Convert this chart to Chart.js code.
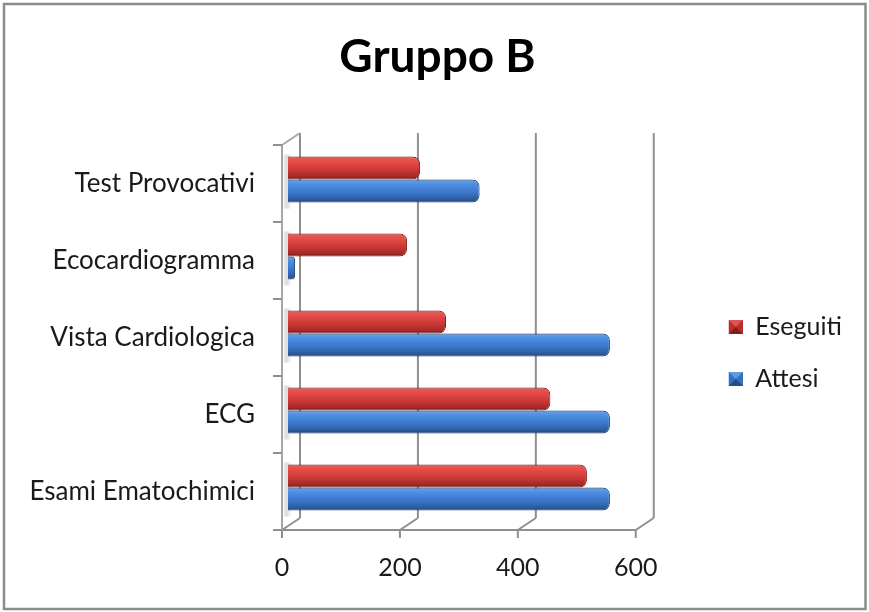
<!DOCTYPE html>
<html>
<head>
<meta charset="utf-8">
<script src="https://cdn.jsdelivr.net/npm/chart.js@4/dist/chart.umd.min.js"></script>
<style>
  html, body { margin: 0; padding: 0; background: #ffffff; }
  canvas { display: block; }
</style>
</head>
<body>
<canvas id="chart" width="869" height="612"></canvas>
<script>
// Exams for group B: performed vs expected
const categories = ['Test Provocativi', 'Ecocardiogramma', 'Vista Cardiologica', 'ECG', 'Esami Ematochimici'];
const eseguiti = [224, 202, 268, 445, 507];
const attesi = [325, 12, 546, 546, 546];
const xTickValues = [0, 200, 400, 600];
const seriesNames = ['Eseguiti', 'Attesi'];
const chartTitle = 'Gruppo B';

const CATEGORY_PCT = 0.6;
const FONT = 'Lato, "Open Sans", sans-serif';
const FRONT = { dx: -6, dy: 4 };   // front edge of the 3D box
const BACK = { dx: 12, dy: -8 };   // back wall
const MARKER = 14;                 // legend square size
const MARKER_SLOT = 74;            // legend slot: gap from the plot plus the square

// Tube-like vertical shading for each bar
function tubeShade(stops, flat) {
  return (ctx) => {
    if (ctx.type !== 'data') return flat;
    const chart = ctx.chart;
    const ys = chart.scales.y;
    if (!ys || !chart.chartArea) return flat;
    const band = Math.abs(ys.getPixelForValue(1) - ys.getPixelForValue(0));
    const thick = band * CATEGORY_PCT / 2;
    const top = ys.getPixelForValue(ctx.dataIndex) - band * CATEGORY_PCT / 2 + ctx.datasetIndex * thick;
    const g = chart.ctx.createLinearGradient(0, top, 0, top + thick);
    stops.forEach(([o, c]) => g.addColorStop(o, c));
    return g;
  };
}

const redStops = [[0, '#9c2b29'], [0.08, '#e25a57'], [0.25, '#e44a47'], [0.6, '#c83835'], [0.88, '#a32825'], [1, '#6e1917']];
const blueStops = [[0, '#2c5f9e'], [0.08, '#5f9be6'], [0.25, '#4a8be0'], [0.6, '#3a74c6'], [0.88, '#2b5a9c'], [1, '#1b3b6a']];

// Pyramid-shaded legend square, right-aligned in its slot
function legendMarker(light, mid, dark) {
  const c = document.createElement('canvas');
  c.width = MARKER_SLOT; c.height = MARKER;
  const g = c.getContext('2d');
  const x0 = MARKER_SLOT - MARKER, s = MARKER, h = s / 2;
  g.fillStyle = mid; g.fillRect(x0, 0, s, s);
  g.fillStyle = light;
  g.beginPath(); g.moveTo(x0, 0); g.lineTo(x0 + s, 0); g.lineTo(x0 + h, h); g.closePath(); g.fill();
  g.fillStyle = dark;
  g.beginPath(); g.moveTo(x0, s); g.lineTo(x0 + s, s); g.lineTo(x0 + h, h); g.closePath(); g.fill();
  return c;
}

const frame3d = {
  id: 'frame3d',
  beforeDraw(chart) {
    const { ctx, width, height } = chart;
    ctx.save();
    ctx.fillStyle = '#ffffff';
    ctx.fillRect(0, 0, width, height);
    ctx.strokeStyle = '#8c8c8c';
    ctx.lineWidth = 2.5;
    ctx.strokeRect(4, 4, width - 7.5, height - 7);
    ctx.restore();
  },
  beforeDatasetsDraw(chart) {
    const { ctx, chartArea: a, scales: { x, y } } = chart;
    const line = (x1, y1, x2, y2) => { ctx.beginPath(); ctx.moveTo(x1, y1); ctx.lineTo(x2, y2); ctx.stroke(); };
    ctx.save();
    // soft shadow of each bar pair on the left wall
    chart.getDatasetMeta(0).data.forEach((bar, i) => {
      const low = chart.getDatasetMeta(1).data[i];
      const top = bar.y - bar.height / 2 - 2;
      const bottom = low.y + low.height / 2 + 6;
      const g = ctx.createLinearGradient(a.left + FRONT.dx, 0, a.left + 3, 0);
      g.addColorStop(0, 'rgba(150,150,150,0)');
      g.addColorStop(0.5, 'rgba(150,150,150,0.35)');
      g.addColorStop(1, 'rgba(150,150,150,0.05)');
      ctx.fillStyle = g;
      ctx.fillRect(a.left + FRONT.dx + 1, top, 8, bottom - top);
    });
    ctx.strokeStyle = '#8f8f8f';
    ctx.lineWidth = 2;
    // back wall gridlines, floor diagonals and front tick marks
    x.ticks.forEach(t => {
      const px = x.getPixelForValue(t.value);
      line(px + BACK.dx, a.top + BACK.dy, px + BACK.dx, a.bottom + BACK.dy);
      line(px + BACK.dx, a.bottom + BACK.dy, px + FRONT.dx, a.bottom + FRONT.dy);
      line(px + FRONT.dx, a.bottom + FRONT.dy, px + FRONT.dx, a.bottom + FRONT.dy + 8);
    });
    // front floor edge
    line(x.getPixelForValue(x.min) + FRONT.dx, a.bottom + FRONT.dy, x.getPixelForValue(x.max) + FRONT.dx, a.bottom + FRONT.dy);
    // left wall
    ctx.strokeStyle = '#a6a6a6';
    line(a.left + FRONT.dx, a.top + FRONT.dy, a.left + FRONT.dx, a.bottom + FRONT.dy);
    line(a.left + FRONT.dx, a.top + FRONT.dy, a.left + BACK.dx, a.top + BACK.dy);
    // category tick marks
    ctx.strokeStyle = '#8f8f8f';
    const band = Math.abs(y.getPixelForValue(1) - y.getPixelForValue(0));
    for (let i = 0; i <= categories.length; i++) {
      const yb = y.getPixelForValue(0) - band / 2 + i * band + FRONT.dy;
      line(a.left + FRONT.dx - 9, yb, a.left + FRONT.dx, yb);
    }
    ctx.restore();
  }
};

new Chart(document.getElementById('chart'), {
  type: 'bar',
  data: {
    labels: categories,
    datasets: [
      {
        label: seriesNames[0],
        data: eseguiti,
        backgroundColor: tubeShade(redStops, '#c0392b'),
        borderColor: '#7a1f1d',
        borderWidth: 1,
        borderRadius: 7,
        borderSkipped: 'start',
        pointStyle: legendMarker('#e05350', '#b8302d', '#7e1d1b')
      },
      {
        label: seriesNames[1],
        data: attesi,
        backgroundColor: tubeShade(blueStops, '#3a74c6'),
        borderColor: '#1e3f6e',
        borderWidth: 1,
        borderRadius: 7,
        borderSkipped: 'start',
        pointStyle: legendMarker('#5d9be4', '#3570bd', '#234d86')
      }
    ]
  },
  options: {
    indexAxis: 'y',
    responsive: false,
    animation: false,
    devicePixelRatio: 1,
    datasets: { bar: { categoryPercentage: CATEGORY_PCT, barPercentage: 1 } },
    layout: { padding: { top: 0, left: 29, right: 23, bottom: 28 } },
    scales: {
      x: {
        type: 'linear',
        min: 0,
        max: 600,
        afterBuildTicks: s => { s.ticks = xTickValues.map(v => ({ value: v })); },
        afterFit: s => { s.height = 58; },
        grid: { display: false, drawTicks: false },
        border: { display: false },
        ticks: {
          padding: 27,
          labelOffset: FRONT.dx,
          color: '#1a1a1a',
          font: { family: FONT, size: 25 }
        }
      },
      y: {
        type: 'category',
        position: 'left',
        afterFit: s => { s.width = 259; },
        grid: { display: false, drawTicks: false },
        border: { display: false },
        ticks: {
          padding: 33,
          labelOffset: FRONT.dy,
          color: '#1a1a1a',
          font: { family: FONT, size: 26 }
        }
      }
    },
    plugins: {
      title: {
        display: true,
        text: chartTitle,
        color: '#000000',
        font: { family: FONT, size: 46, weight: 'bold' },
        padding: { top: 29.6, bottom: 56.2 }
      },
      legend: {
        position: 'right',
        align: 'center',
        fullSize: false,
        title: { display: true, text: '', font: { size: 12 }, padding: { top: 0, bottom: 24.6 } },
        labels: {
          usePointStyle: true,
          pointStyleWidth: MARKER_SLOT,
          boxWidth: MARKER,
          boxHeight: MARKER,
          padding: 27,
          color: '#1a1a1a',
          font: { family: FONT, size: 25 }
        }
      },
      tooltip: { enabled: false }
    }
  },
  plugins: [frame3d]
});
</script>
</body>
</html>
